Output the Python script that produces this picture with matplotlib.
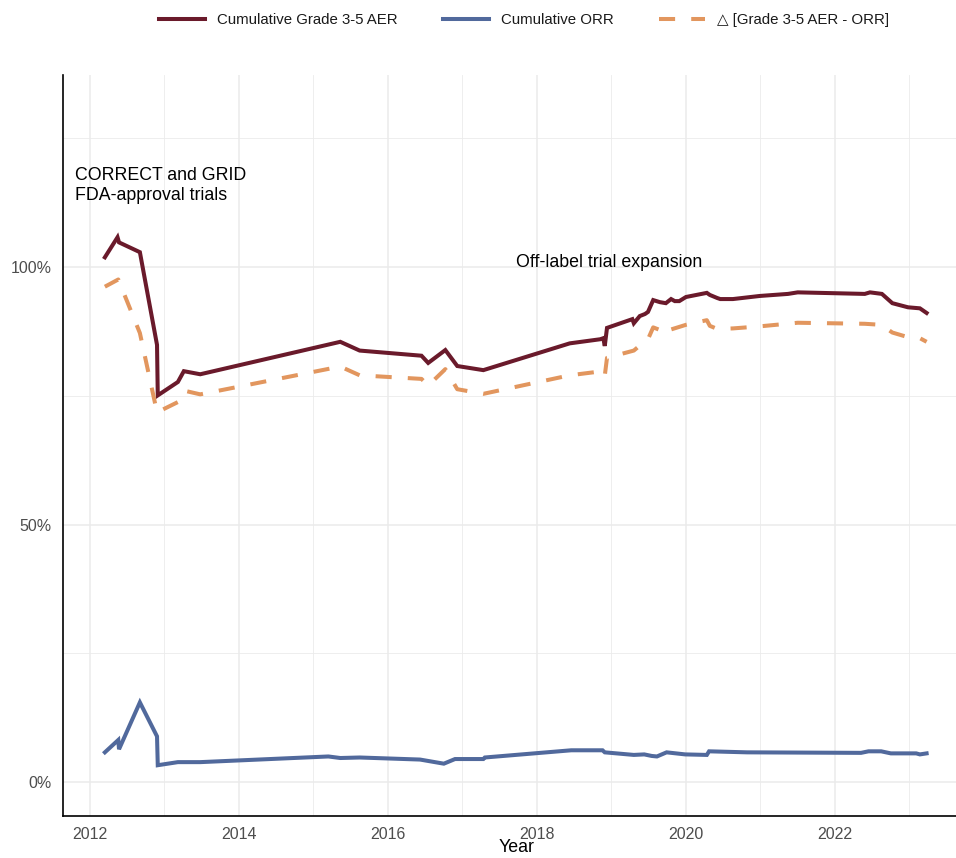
import matplotlib
matplotlib.use("Agg")
import matplotlib.pyplot as plt
from matplotlib.ticker import FixedLocator, FuncFormatter

plt.rcParams['font.family'] = ['Liberation Sans', 'DejaVu Sans']

# Cumulative Grade 3-5 AER (%)
aer_year = [2012.20, 2012.37, 2012.39, 2012.67, 2012.90, 2012.91, 2013.18, 2013.26, 2013.48,
            2015.36, 2015.62, 2016.45, 2016.54, 2016.77, 2016.93, 2017.28, 2018.44, 2018.85,
            2018.89, 2018.91, 2018.94, 2019.28, 2019.30, 2019.38, 2019.45, 2019.49, 2019.56,
            2019.65, 2019.73, 2019.80, 2019.85, 2019.91, 2020.00, 2020.28, 2020.32, 2020.42,
            2020.46, 2020.63, 2020.99, 2021.37, 2021.50, 2022.40, 2022.47, 2022.63, 2022.77,
            2022.98, 2023.14, 2023.23]
aer = [101.9, 105.8, 104.8, 102.9, 84.9, 75.1, 77.7, 79.8, 79.2,
       85.5, 83.8, 82.8, 81.4, 83.9, 80.8, 80.0, 85.2, 86.0,
       86.2, 84.7, 88.2, 89.9, 89.1, 90.5, 90.9, 91.3, 93.6,
       93.2, 93.0, 93.8, 93.4, 93.4, 94.2, 95.0, 94.6, 94.0,
       93.8, 93.8, 94.4, 94.8, 95.1, 94.8, 95.1, 94.8, 93.0,
       92.2, 92.0, 91.1]

# Cumulative ORR (%)
orr_year = [2012.20, 2012.38, 2012.39, 2012.67, 2012.90, 2012.91, 2013.18, 2013.48, 2015.20,
            2015.36, 2015.62, 2016.43, 2016.75, 2016.90, 2017.28, 2017.30, 2018.46, 2018.88,
            2018.91, 2019.30, 2019.44, 2019.54, 2019.61, 2019.74, 2019.99, 2020.28, 2020.31,
            2020.82, 2022.35, 2022.45, 2022.62, 2022.75, 2023.09, 2023.14, 2023.23]
orr = [5.8, 8.2, 6.4, 15.5, 8.9, 3.3, 3.9, 3.9, 5.0,
       4.7, 4.8, 4.4, 3.6, 4.5, 4.5, 4.8, 6.2, 6.2,
       5.8, 5.3, 5.4, 5.1, 5.0, 5.8, 5.4, 5.3, 6.0,
       5.8, 5.7, 6.0, 6.0, 5.6, 5.6, 5.4, 5.6]

# Grade 3-5 AER minus ORR (%)
delta_year = [2012.20, 2012.38, 2012.67, 2012.90, 2013.18, 2013.27, 2013.48, 2015.36, 2015.62,
              2016.45, 2016.54, 2016.77, 2016.93, 2017.28, 2018.44, 2018.88, 2018.91, 2018.94,
              2019.30, 2019.44, 2019.49, 2019.56, 2019.65, 2019.74, 2019.80, 2020.00, 2020.28,
              2020.32, 2020.42, 2020.63, 2020.99, 2021.50, 2022.40, 2022.62, 2022.77, 2022.98,
              2023.14, 2023.23]
delta = [96.2, 97.6, 87.2, 71.8, 73.8, 76.0, 75.3, 80.7, 79.0,
         78.3, 77.0, 80.2, 76.3, 75.4, 79.0, 79.8, 78.9, 82.4,
         83.8, 85.5, 86.0, 88.3, 87.8, 87.0, 87.9, 88.8, 89.7,
         88.6, 88.0, 88.1, 88.5, 89.2, 89.0, 88.8, 87.3, 86.4,
         86.2, 85.5]

x_ticks = [2012, 2014, 2016, 2018, 2020, 2022]
x_minor = [2013, 2015, 2017, 2019, 2021, 2023]
y_ticks = [0, 50, 100]
y_minor = [25, 75, 125]

RED = '#6A1A2B'
BLUE = '#51699C'
ORANGE = '#E2965E'
GRID = '#EBEBEB'

fig = plt.figure(figsize=(9.56, 8.58), dpi=100)
ax = fig.add_axes([0.0659, 0.0493, 0.9498, 0.8633])

ax.plot(aer_year, aer, color=RED, lw=2.9, solid_joinstyle='miter',
        label='Cumulative Grade 3-5 AER')
ax.plot(orr_year, orr, color=BLUE, lw=2.9, solid_joinstyle='miter',
        label='Cumulative ORR')
ax.plot(delta_year, delta, color=ORANGE, lw=2.9, dashes=(4, 4),
        label='\u25b3 [Grade 3-5 AER - ORR]')

ax.set_xlim(2011.638, 2023.826)
ax.set_ylim(-6.5, 137.3)

ax.xaxis.set_major_locator(FixedLocator(x_ticks))
ax.xaxis.set_minor_locator(FixedLocator(x_minor))
ax.yaxis.set_major_locator(FixedLocator(y_ticks))
ax.yaxis.set_minor_locator(FixedLocator(y_minor))
ax.yaxis.set_major_formatter(FuncFormatter(lambda v, p: f'{v:.0f}%'))

ax.grid(which='major', color=GRID, lw=1.1)
ax.grid(which='minor', color=GRID, lw=0.6)
ax.set_axisbelow(True)

ax.tick_params(which='both', length=0)
ax.tick_params(axis='y', labelsize=11.5, labelcolor='#4D4D4D', pad=8)
ax.tick_params(axis='x', labelsize=11.5, labelcolor='#4D4D4D', pad=8)

for side in ['top', 'right']:
    ax.spines[side].set_visible(False)
for side in ['left', 'bottom']:
    ax.spines[side].set_color('black')
    ax.spines[side].set_linewidth(1.2)

# axis title placed by hand so it stays inside the canvas
fig.text(517 / 956, 1 - 852 / 858, 'Year', fontsize=12.8, color='black',
         ha='center', va='baseline')

ax.text(2011.80, 117.0, 'CORRECT and GRID', fontsize=12.8, va='baseline', ha='left')
ax.text(2011.80, 113.1, 'FDA-approval trials', fontsize=12.8, va='baseline', ha='left')
ax.text(2017.72, 100.0, 'Off-label trial expansion', fontsize=12.8, va='baseline', ha='left')

ax.legend(loc='center', bbox_to_anchor=(524 / 956, 1 - 20 / 858),
          bbox_transform=fig.transFigure, ncol=3, frameon=False,
          fontsize=10.8, handlelength=3.1, handletextpad=0.8, columnspacing=3.0,
          labelcolor='#1A1A1A')

fig.savefig('out.png', dpi=100)
